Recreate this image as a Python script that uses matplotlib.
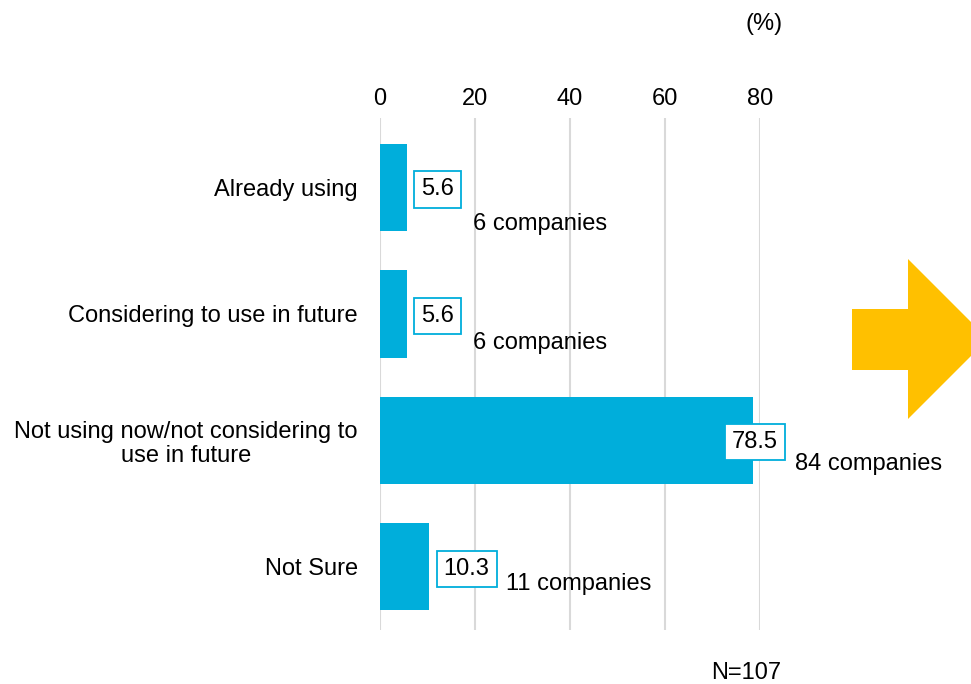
import matplotlib.pyplot as plt
from matplotlib.patches import Polygon

plt.rcParams['font.family'] = ['Liberation Sans', 'DejaVu Sans']

categories = ['Already using', 'Considering to use in future',
              'Not using now/not considering to\nuse in future', 'Not Sure']
percent = [5.6, 5.6, 78.5, 10.3]
companies = [6, 6, 84, 11]
ticks = [0, 20, 40, 60, 80]

bar_color = '#00AEDB'
fs = 17

fig = plt.figure(figsize=(9.71, 6.84), dpi=100)
ax = fig.add_axes([380 / 971, 1 - 630 / 684, 380 / 971, 512 / 684])

pos = list(range(len(categories)))
ax.barh(pos, percent, height=0.69, color=bar_color, zorder=2)

ax.set_xlim(0, 80)
ax.set_ylim(3.5, -0.55)
ax.set_xticks(ticks)
ax.xaxis.tick_top()
ax.tick_params(axis='x', length=0, labelsize=fs, pad=6)
ax.tick_params(axis='y', length=0, labelsize=fs, pad=16)
ax.set_yticks(pos)
ax.set_yticklabels(categories, ha='right', multialignment='center', linespacing=1.15)
ax.grid(axis='x', color='#d9d9d9', linewidth=1.5, zorder=0)
for s in ax.spines.values():
    s.set_visible(False)

box = dict(boxstyle='square,pad=0.3', facecolor='white', edgecolor=bar_color, linewidth=1.3)

# where the "N companies" note sits, as (x, y offset) per bar
note_x = [19.6, 19.6, 87.4, 26.5]
note_dy = [0.285, 0.23, 0.19, 0.14]

for i, (p, c) in enumerate(zip(percent, companies)):
    if p > 50:
        ax.text(p + 0.4, i + 0.01, f'{p}', ha='center', va='center', fontsize=fs,
                bbox=box, zorder=4, clip_on=False)
    else:
        ax.text(p + 3.1, i + 0.015, f'{p}', ha='left', va='center', fontsize=fs,
                bbox=box, zorder=4, clip_on=False)
    ax.text(note_x[i], i + note_dy[i], f'{c} companies', ha='left', va='center',
            fontsize=fs, zorder=4, clip_on=False)

fig.text(764 / 971, 1 - 24 / 684, '(%)', ha='center', va='center', fontsize=fs)
fig.text(746 / 971, 1 - 673 / 684, 'N=107', ha='center', va='center', fontsize=fs)

# orange arrow on the right edge
arrow_px = [(852, 309), (908, 309), (908, 259), (988, 339),
            (908, 419), (908, 370), (852, 370)]
arrow = Polygon([(x / 971, 1 - y / 684) for x, y in arrow_px], closed=True,
                facecolor='#FFC000', edgecolor='none', transform=fig.transFigure)
fig.patches.append(arrow)

fig.savefig('out.png', dpi=100)
